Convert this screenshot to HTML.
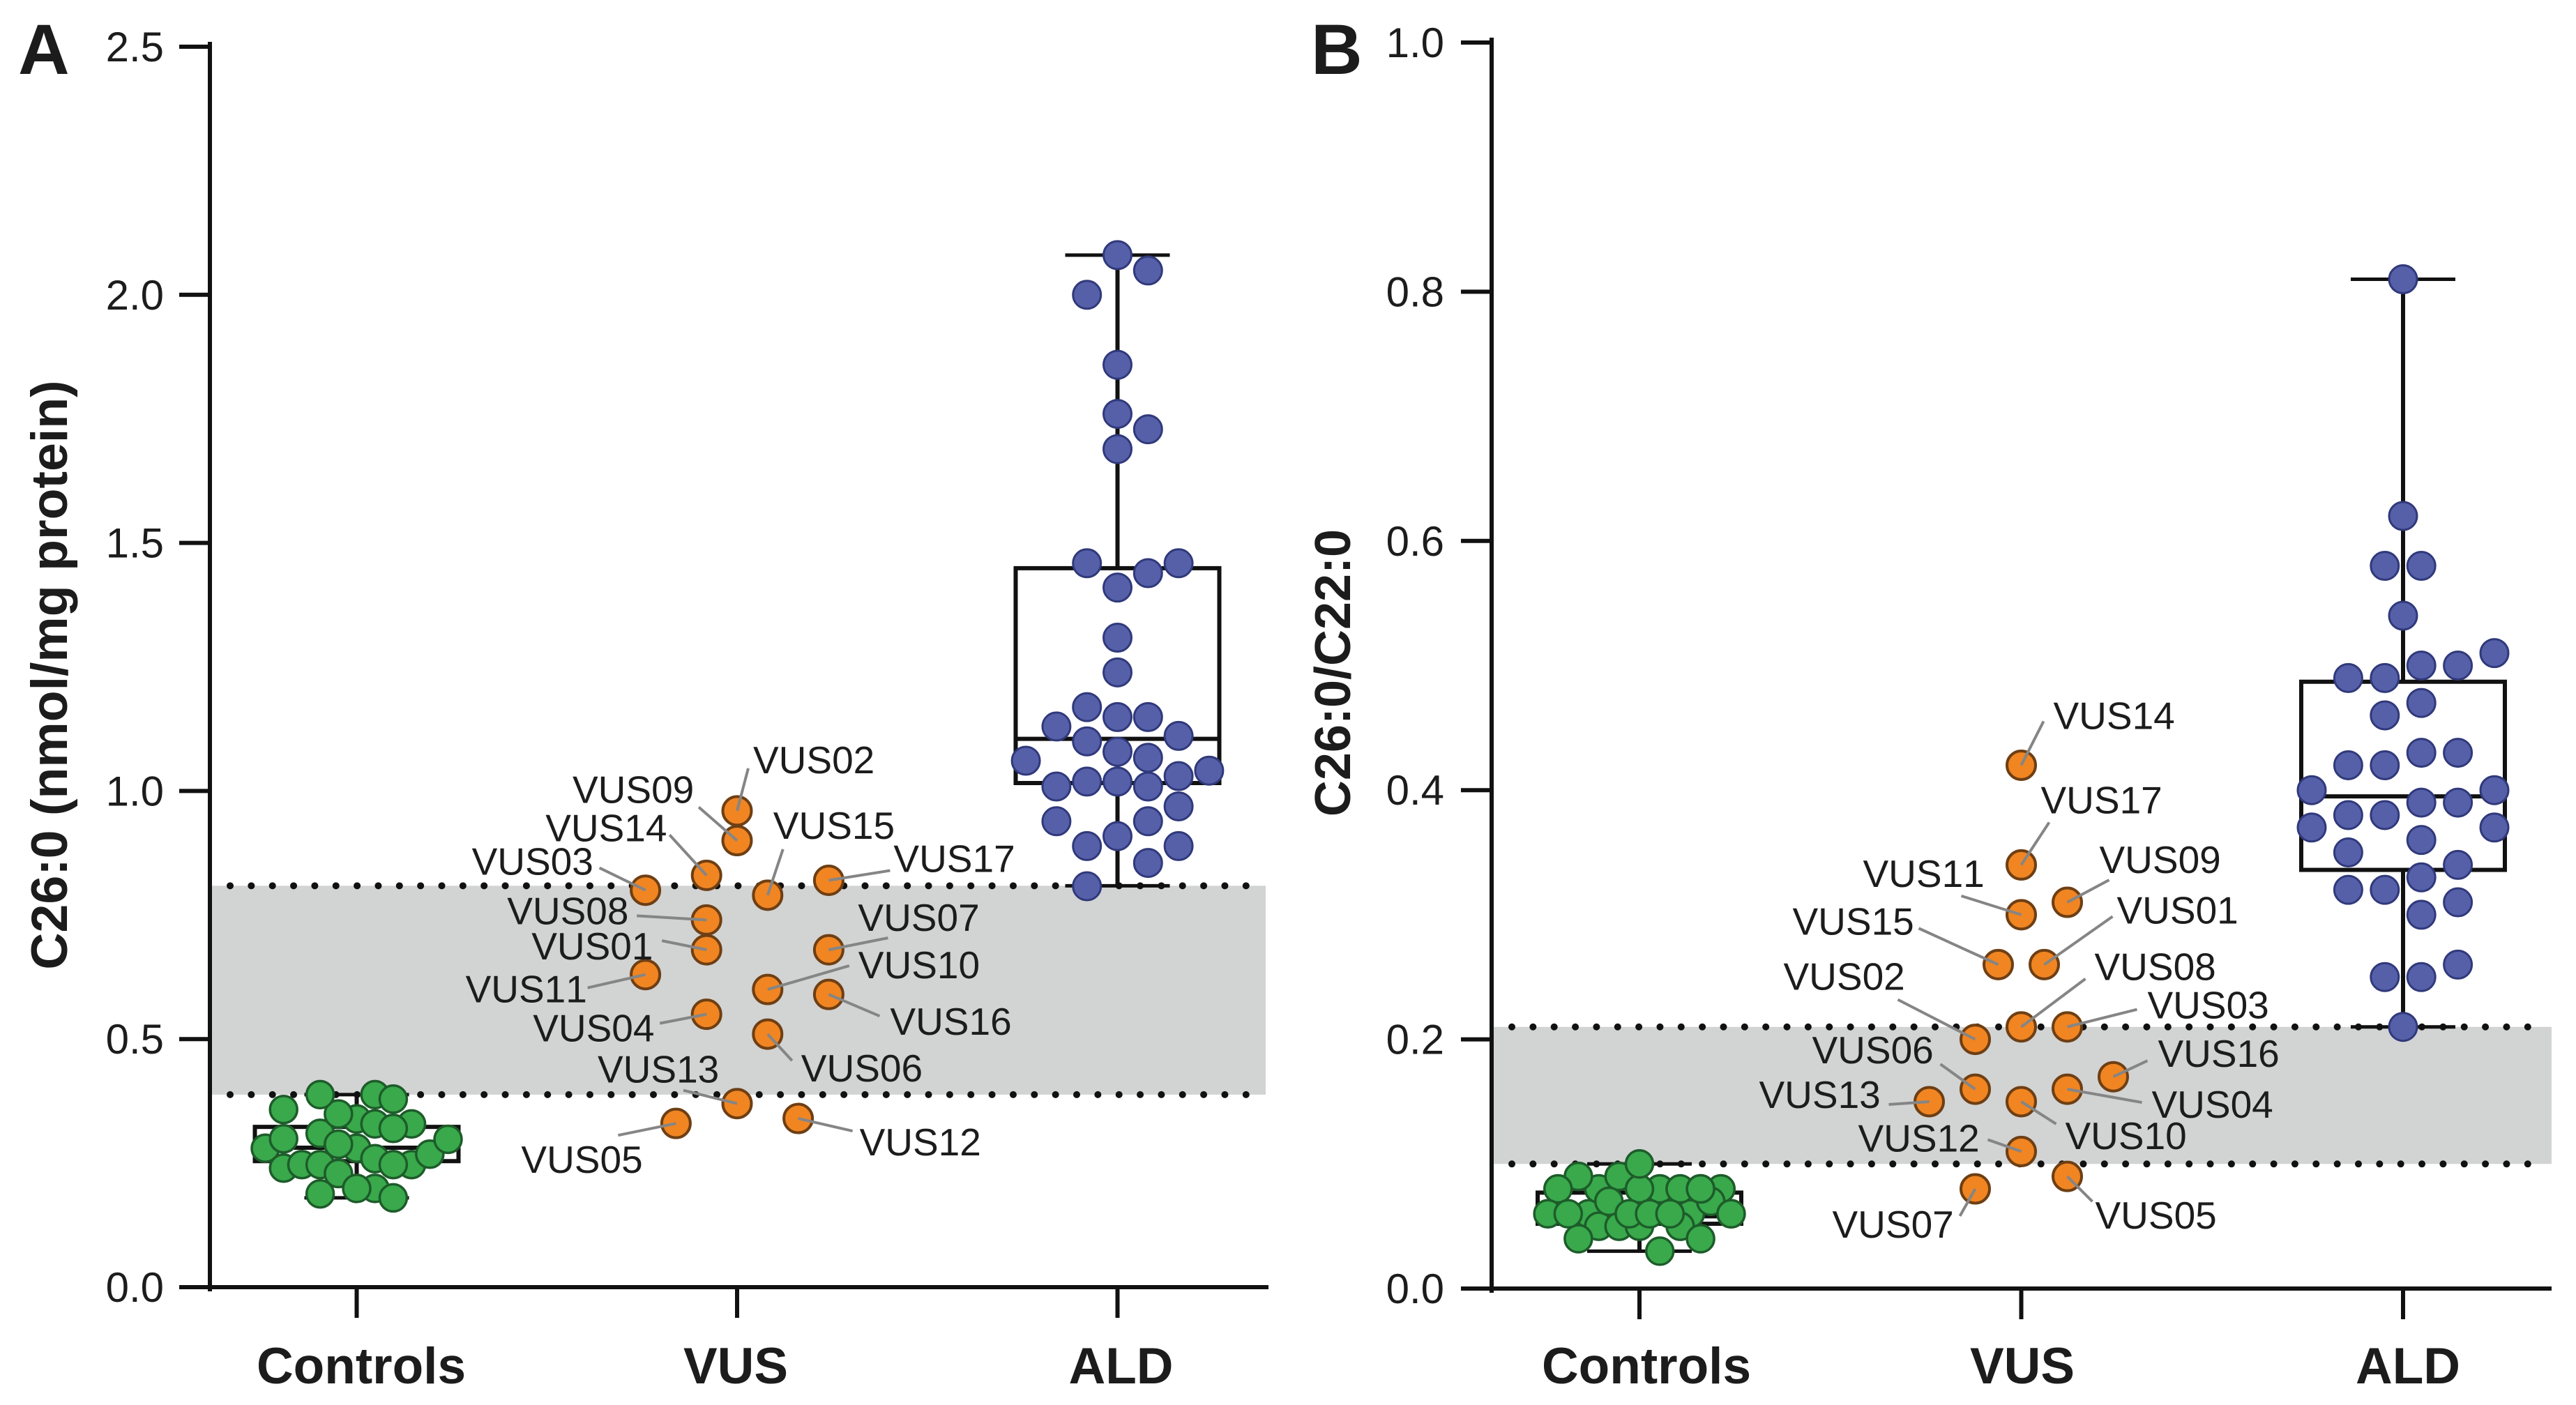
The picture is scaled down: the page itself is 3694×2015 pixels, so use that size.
<!DOCTYPE html>
<html lang="en">
<head>
<meta charset="utf-8">
<title>C26:0 and C26:0/C22:0 by group</title>
<style>
html,body{margin:0;padding:0;background:#fff;}
svg{display:block;}
text{font-family:"Liberation Sans",sans-serif;fill:#1c1c1c;font-kerning:none;}
</style>
</head>
<body>
<svg id="chart" xmlns="http://www.w3.org/2000/svg" width="3694" height="2015" viewBox="0 0 3694 2015">
  <text x="26" y="106" font-size="102" font-weight="700">A</text>
  <text x="1880" y="106" font-size="102" font-weight="700">B</text>
  <text transform="translate(96 968) rotate(-90)" text-anchor="middle" font-size="73.5" font-weight="700">C26:0 (nmol/mg protein)</text>
  <text transform="translate(1936 965) rotate(-90)" text-anchor="middle" font-size="72" font-weight="700">C26:0/C22:0</text>
</svg>
<script>
const categories = ['Controls', 'VUS', 'ALD'];

const ticksA = ['0.0', '0.5', '1.0', '1.5', '2.0', '2.5'];
const ticksB = ['0.0', '0.2', '0.4', '0.6', '0.8', '1.0'];

const bandA = [0.388, 0.809];
const bandB = [0.10, 0.21];

// box stats: min, q1, median, q3, max
const controlsBoxA = [0.18, 0.254, 0.281, 0.323, 0.388];
const aldBoxA = [0.809, 1.016, 1.105, 1.449, 2.08];
const controlsBoxB = [0.03, 0.052, 0.058, 0.077, 0.10];
const aldBoxB = [0.21, 0.336, 0.395, 0.487, 0.81];

const controlsValuesA = [0.28, 0.24, 0.247, 0.247, 0.229, 0.28, 0.339, 0.329, 0.259, 0.247, 0.247, 0.268, 0.298, 0.31, 0.358, 0.299, 0.349, 0.288, 0.388, 0.388, 0.379, 0.329, 0.32, 0.199, 0.199, 0.188, 0.18];
const controlsColumnsA = [-5, -4, -3, -2, -1, 0, 0, 3, 1, 3, 2, 4, 5, -2, -4, -4, -1, -1, -2, 1, 2, 1, 2, 1, 0, -2, 2];

const aldValuesA = [2.08, 2.049, 2.0, 1.859, 1.76, 1.729, 1.689, 1.459, 1.439, 1.459, 1.41, 1.309, 1.239, 1.169, 1.149, 1.149, 1.13, 1.111, 1.1, 1.079, 1.067, 1.061, 1.041, 1.03, 1.009, 1.019, 1.019, 1.009, 0.969, 0.939, 0.939, 0.909, 0.889, 0.889, 0.855, 0.808];
const aldColumnsA = [0, 1, -1, 0, 0, 1, 0, -1, 1, 2, 0, 0, 0, -1, 0, 1, -2, 2, -1, 0, 1, -3, 3, 2, -2, -1, 0, 1, 2, -2, 1, 0, -1, 2, 1, -1];

const vusNamesA = ['VUS01', 'VUS02', 'VUS03', 'VUS04', 'VUS05', 'VUS06', 'VUS07', 'VUS08', 'VUS09', 'VUS10', 'VUS11', 'VUS12', 'VUS13', 'VUS14', 'VUS15', 'VUS16', 'VUS17'];
const vusValuesA = [0.68, 0.96, 0.80, 0.55, 0.33, 0.51, 0.68, 0.74, 0.90, 0.60, 0.63, 0.34, 0.37, 0.83, 0.79, 0.59, 0.82];
const vusColumnsA = [-1, 0, -3, -1, -2, 1, 3, -1, 0, 1, -3, 2, 0, -1, 1, 3, 3];

const controlsValuesB = [0.06, 0.05, 0.06, 0.05, 0.05, 0.05, 0.08, 0.08, 0.08, 0.08, 0.07, 0.06, 0.04, 0.04, 0.03, 0.09, 0.09, 0.08, 0.06, 0.06, 0.07, 0.08, 0.06, 0.06, 0.06, 0.06, 0.10, 0.08, 0.08];
const controlsColumnsB = [5, 4, -5, -4, -2, 0, -4, 2, 4, 8, 7, 9, -6, 6, 2, -6, -2, -8, -9, -7, -3, 0, -1, 1, 3, 9, 0, 6, 6];

const aldValuesB = [0.81, 0.62, 0.58, 0.58, 0.54, 0.51, 0.50, 0.50, 0.49, 0.49, 0.47, 0.46, 0.43, 0.43, 0.42, 0.42, 0.40, 0.40, 0.39, 0.39, 0.38, 0.38, 0.37, 0.37, 0.36, 0.35, 0.34, 0.33, 0.32, 0.32, 0.31, 0.30, 0.25, 0.25, 0.26, 0.21];
const aldColumnsB = [0, 0, -1, 1, 0, 5, 1, 3, -3, -1, 1, -1, 1, 3, -3, -1, -5, 5, 1, 3, -3, -1, -5, 5, 1, -3, 3, 1, -3, -1, 3, 1, -1, 1, 3, 0];

const vusNamesB = ['VUS01', 'VUS02', 'VUS03', 'VUS04', 'VUS05', 'VUS06', 'VUS07', 'VUS08', 'VUS09', 'VUS10', 'VUS11', 'VUS12', 'VUS13', 'VUS14', 'VUS15', 'VUS16', 'VUS17'];
const vusValuesB = [0.26, 0.20, 0.21, 0.16, 0.09, 0.16, 0.08, 0.21, 0.31, 0.15, 0.30, 0.11, 0.15, 0.42, 0.26, 0.17, 0.34];
const vusColumnsB = [1, -2, 2, 2, 2, -2, -2, 0, 2, 0, 0, 0, -4, 0, -1, 4, 0];

// annotation layout, relative to each marker: leader end dx, dy, text dx, dy
const labelLayoutA = {
  VUS01: [-64, -13, -251, 14], VUS02: [16, -61, 23, -54], VUS03: [-66, -32, -249, -22],
  VUS04: [-67, 13, -249, 39], VUS05: [-83, 17, -222, 71], VUS06: [35, 38, 48, 68],
  VUS07: [85, -17, 42, -27], VUS08: [-100, -6, -286, 6], VUS09: [-55, -48, -236, -54],
  VUS10: [117, -34, 130, -16], VUS11: [-83, 19, -258, 40], VUS12: [78, 18, 88, 53],
  VUS13: [-77, -19, -200, -30], VUS14: [-53, -58, -231, -49], VUS15: [22, -66, 8, -81],
  VUS16: [73, 31, 88, 58], VUS17: [88, -14, 93, -12]
};
const labelLayoutB = {
  VUS01: [98, -69, 104, -59], VUS02: [-111, -57, -275, -71], VUS03: [100, -25, 115, -12],
  VUS04: [107, 19, 121, 41], VUS05: [36, 36, 40, 75], VUS06: [-50, -36, -234, -37],
  VUS07: [-22, 39, -205, 70], VUS08: [92, -69, 105, -67], VUS09: [60, -32, 46, -42],
  VUS10: [50, 32, 63, 68], VUS11: [-86, -27, -227, -40], VUS12: [-48, -17, -234, 0],
  VUS13: [-58, 4, -244, 9], VUS14: [32, -63, 46, -52], VUS15: [-114, -52, -295, -43],
  VUS16: [49, -23, 64, -14], VUS17: [40, -61, 28, -74]
};

const SVG_NS = 'http://www.w3.org/2000/svg';
const root = document.getElementById('chart');

function make(tag, props, parent) {
  const el = document.createElementNS(SVG_NS, tag);
  Object.keys(props).forEach(function (k) { el.setAttribute(k, props[k]); });
  (parent || root).appendChild(el);
  return el;
}

function drawPanel(p) {
  const prefix = p.prefix;
  const y = function (v) { return p.y0 - p.yPerUnit * v; };
  const x = function (i) { return p.x0 + p.xStep * i; };

  const panel = make('g', {});
  
  

  const band = make('rect', {
    x: p.axisX, y: y(p.band[1]), width: p.bandEnd - p.axisX,
    height: y(p.band[0]) - y(p.band[1]), fill: '#d2d3d3'
  }, panel);
  
  

  p.band.forEach(function (v, i) {
    const dotted = make('line', {
      x1: p.dotStart, x2: p.dotEnd + 1, y1: y(v), y2: y(v), stroke: '#111',
      'stroke-width': 10, 'stroke-linecap': 'round', 'stroke-dasharray': '0 30.35'
    }, panel);
    
    
  });

  const yAxis = make('line', {
    x1: p.axisX, x2: p.axisX, y1: y(p.yMax) - 7, y2: p.y0 + 6, stroke: '#111', 'stroke-width': 6
  }, panel);
  
  

  const xAxis = make('line', {
    x1: p.axisX, x2: p.axisEnd, y1: p.y0, y2: p.y0, stroke: '#111', 'stroke-width': 6
  }, panel);
  
  

  p.ticks.forEach(function (label) {
    const v = parseFloat(label);
    const tick = make('line', {
      x1: p.axisX - 44, x2: p.axisX, y1: y(v), y2: y(v), stroke: '#111', 'stroke-width': 6
    }, panel);
    
    
    const t = make('text', {
      x: p.tickTextX, y: y(v) + 21, 'text-anchor': 'end', 'font-size': 60
    }, panel);
    t.textContent = label;
    
    
  });

  categories.forEach(function (name, i) {
    const tick = make('line', {
      x1: x(i), x2: x(i), y1: p.y0, y2: p.y0 + 44, stroke: '#111', 'stroke-width': 6
    }, panel);
    
    
    const t = make('text', {
      x: x(i) + p.catShift[i], y: 1984, 'text-anchor': 'middle', 'font-size': 73, 'font-weight': 700
    }, panel);
    t.textContent = name;
    
    
  });

  function drawBox(stats, i, name) {
    const g = make('g', { fill: 'none', stroke: '#111', 'stroke-width': 6 }, panel);
    
    
    const cx = x(i);
    make('line', { x1: cx, x2: cx, y1: y(stats[4]), y2: y(stats[3]) }, g);
    make('line', { x1: cx, x2: cx, y1: y(stats[1]), y2: y(stats[0]) }, g);
    make('line', { x1: cx - 75, x2: cx + 75, y1: y(stats[4]), y2: y(stats[4]), 'stroke-width': 5 }, g);
    make('line', { x1: cx - 75, x2: cx + 75, y1: y(stats[0]), y2: y(stats[0]), 'stroke-width': 5 }, g);
    make('rect', { x: cx - 146, y: y(stats[3]), width: 292, height: y(stats[1]) - y(stats[3]) }, g);
    make('line', { x1: cx - 146, x2: cx + 146, y1: y(stats[2]), y2: y(stats[2]) }, g);
  }

  function drawPoints(values, columns, i, step, style, name) {
    const g = make('g', {}, panel);
    
    
    values.forEach(function (v, k) {
      const c = make('circle', {
        cx: x(i) + columns[k] * step, cy: y(v), r: style.r, fill: style.fill,
        stroke: style.stroke, 'stroke-width': style.width
      }, g);
      
      
    });
  }

  drawBox(p.controlsBox, 0, 'controls');
  drawBox(p.aldBox, 2, 'ald');
  drawPoints(p.controlsValues, p.controlsColumns, 0, p.controlsStep,
    { r: 19.5, fill: '#39a94b', stroke: '#1d5c2a', width: 3.5 }, 'controls');
  drawPoints(p.aldValues, p.aldColumns, 2, p.aldStep,
    { r: 20, fill: '#5560a9', stroke: '#30397a', width: 3 }, 'ald');
  drawPoints(p.vusValues, p.vusColumns, 1, p.vusStep,
    { r: 20.5, fill: '#f08522', stroke: '#6e3f14', width: 4 }, 'vus');

  p.vusNames.forEach(function (name, k) {
    const px = x(1) + p.vusColumns[k] * p.vusStep;
    const py = y(p.vusValues[k]);
    const layout = p.layout[name];
    const leader = make('line', {
      x1: px, y1: py, x2: px + layout[0], y2: py + layout[1], stroke: '#858585', 'stroke-width': 4
    }, panel);
    
    
    const t = make('text', { x: px + layout[2], y: py + layout[3], 'font-size': 55 }, panel);
    t.textContent = name;
    
    
  });
}

drawPanel({
  prefix: 'panel-a', axisX: 301, axisEnd: 1819, bandEnd: 1815, dotStart: 330, dotEnd: 1786,
  y0: 1846, yPerUnit: 711.6, yMax: 2.5, x0: 511.5, xStep: 545.5, tickTextX: 235,
  catShift: [6.5, -2, 5], ticks: ticksA, band: bandA,
  controlsBox: controlsBoxA, aldBox: aldBoxA,
  controlsValues: controlsValuesA, controlsColumns: controlsColumnsA, controlsStep: 26.2,
  aldValues: aldValuesA, aldColumns: aldColumnsA, aldStep: 43.8,
  vusNames: vusNamesA, vusValues: vusValuesA, vusColumns: vusColumnsA, vusStep: 43.8,
  layout: labelLayoutA
});

drawPanel({
  prefix: 'panel-b', axisX: 2139, axisEnd: 3659, bandEnd: 3659, dotStart: 2168, dotEnd: 3629,
  y0: 1848, yPerUnit: 1787, yMax: 1.0, x0: 2351, xStep: 547.5, tickTextX: 2071,
  catShift: [10, 1.5, 7], ticks: ticksB, band: bandB,
  controlsBox: controlsBoxB, aldBox: aldBoxB,
  controlsValues: controlsValuesB, controlsColumns: controlsColumnsB, controlsStep: 14.6,
  aldValues: aldValuesB, aldColumns: aldColumnsB, aldStep: 26.2,
  vusNames: vusNamesB, vusValues: vusValuesB, vusColumns: vusColumnsB, vusStep: 33,
  layout: labelLayoutB
});
</script>
</body>
</html>
